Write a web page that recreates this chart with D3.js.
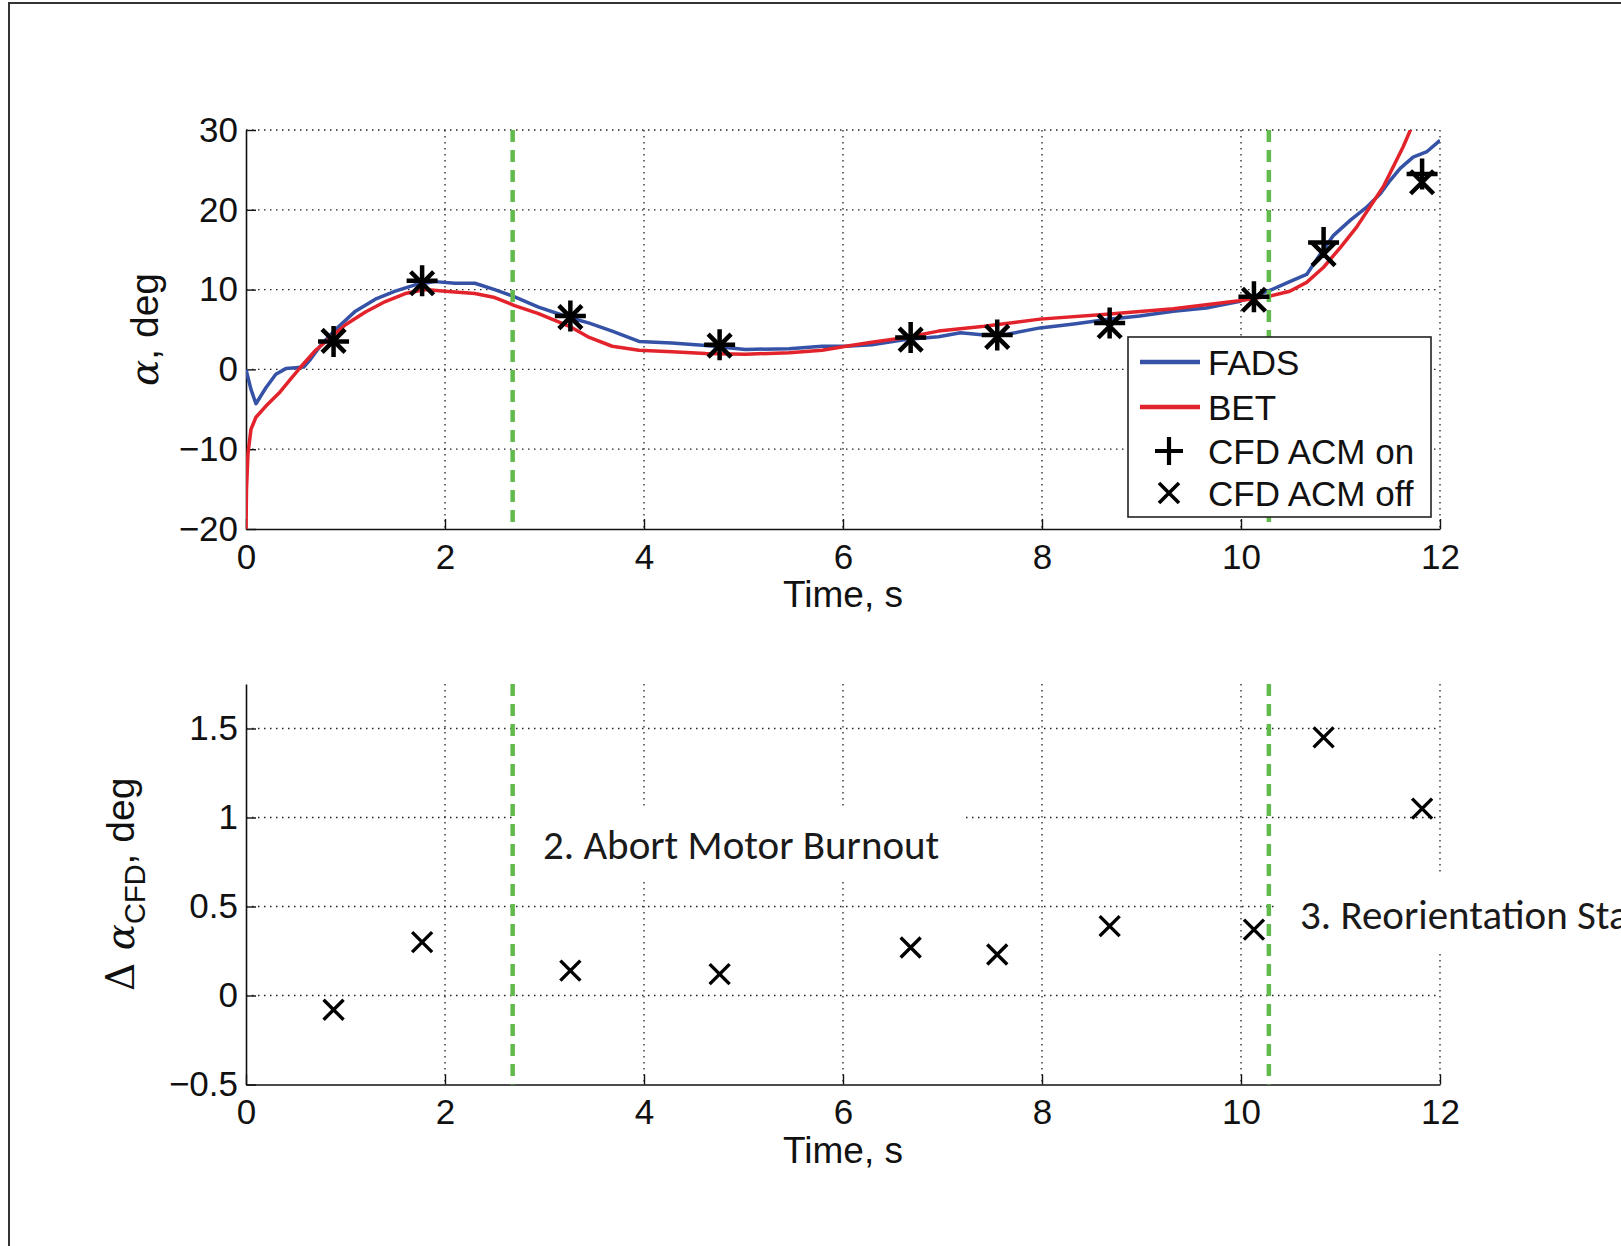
<!DOCTYPE html>
<html>
<head>
<meta charset="utf-8">
<script src="https://cdn.jsdelivr.net/npm/d3@7"></script>
<style>
  body { margin: 0; background: #fff; }
  svg { display: block; }
  .tick text { font-family: "Liberation Sans", Arial, sans-serif; fill: #111; }
</style>
</head>
<body>
<div id="graph"></div>
<script>
const w = 1621;
const h = 1246;

// ---- data ----
const fadsTime = [0, 0.05, 0.1, 0.15, 0.2, 0.3, 0.4, 0.5, 0.58, 0.65, 0.75, 0.9, 1.1, 1.3, 1.5, 1.7, 1.9, 2.1, 2.3, 2.5, 2.7,
    2.94, 3.25, 3.45, 3.68, 3.95, 4.28, 4.62, 5.02, 5.46, 5.79, 6.03, 6.29, 6.63, 6.96, 7.18, 7.42, 7.65, 7.98, 8.32,
    8.65, 8.98, 9.32, 9.65, 9.98, 10.29, 10.49, 10.66, 10.8, 10.93, 11.1, 11.26, 11.4, 11.5, 11.6, 11.73, 11.87, 12.0];
const fadsAlpha = [0, -2.5, -4.3, -3.3, -2.3, -0.6, 0.1, 0.2, 0.3, 1.3, 3.0, 5.0, 7.3, 8.8, 9.8, 10.6, 11.0, 10.8, 10.8, 10.0, 9.1,
    7.8, 6.5, 5.8, 4.8, 3.5, 3.3, 3.0, 2.5, 2.6, 2.9, 2.9, 3.1, 3.75, 4.1, 4.6, 4.3, 4.4, 5.2, 5.7,
    6.25, 6.7, 7.3, 7.7, 8.5, 9.9, 11.0, 11.9, 14.5, 16.8, 18.7, 20.3, 22.0, 23.7, 25.2, 26.6, 27.3, 28.7];

const betTime = [0, 0.005, 0.02, 0.05, 0.1, 0.2, 0.33, 0.45, 0.55, 0.7, 0.85, 1.0, 1.2, 1.4, 1.6, 1.8, 2.0, 2.3, 2.5, 2.7,
    2.94, 3.25, 3.45, 3.68, 3.95, 4.28, 4.62, 5.02, 5.46, 5.79, 6.03, 6.29, 6.63, 6.96, 7.42, 7.98, 8.65, 9.32,
    9.98, 10.29, 10.49, 10.66, 10.83, 11.0, 11.16, 11.33, 11.43, 11.53, 11.63, 11.72];
const betAlpha = [-20, -15, -10.5, -7.5, -6.0, -4.6, -3.0, -1.2, 0.3, 2.4, 4.0, 5.6, 7.2, 8.5, 9.5, 10.0, 9.8, 9.5, 9.0, 8.0,
    7.0, 5.4, 4.0, 2.9, 2.4, 2.2, 2.0, 1.9, 2.1, 2.4, 2.9, 3.4, 4.0, 4.8, 5.4, 6.3, 6.9, 7.6,
    8.6, 9.2, 9.8, 10.9, 12.8, 15.3, 17.8, 21.0, 22.9, 25.4, 27.9, 30.5];

const cfdTime = [0.88, 1.77, 3.26, 4.76, 6.68, 7.55, 8.68, 10.13, 10.83, 11.82];
const cfdAcmOn = [3.5, 11.1, 6.7, 3.1, 4.0, 4.3, 5.8, 9.1, 15.9, 24.5];
const cfdAcmOff = [3.58, 10.8, 6.56, 2.98, 3.73, 4.07, 5.41, 8.73, 14.45, 23.45];
const deltaCfd = [-0.08, 0.30, 0.14, 0.12, 0.27, 0.23, 0.39, 0.37, 1.45, 1.05];

const eventTimes = [2.68, 10.28];
const eventLabels = ["2. Abort Motor Burnout", "3. Reorientation Start"];

const xTicks = [0, 2, 4, 6, 8, 10, 12];
const topTicks = [-20, -10, 0, 10, 20, 30];
const bottomTicks = [-0.5, 0, 0.5, 1, 1.5];
const legendNames = ["FADS", "BET", "CFD ACM on", "CFD ACM off"];

// ---- layout ----
const plotLeft = 246, plotRight = 1440;
const top1 = 130, bot1 = 529;
const top2 = 684, bot2 = 1084.5;

const blue = "#3552a6", red = "#e3232b", green = "#62b94c";
const fmt = d => d3.format("")(d).replace("-", "\u2212");

const svg = d3.select("#graph")
    .append("svg")
    .attr("width", w)
    .attr("height", h);

// outer frame (top + left edges only)
svg.append("path")
    .attr("d", "M9,1246V3H1621")
    .attr("fill", "none")
    .attr("stroke", "#333")
    .attr("stroke-width", 2);

const x = d3.scaleLinear().domain([0, 12]).range([plotLeft, plotRight]);
const y1 = d3.scaleLinear().domain([-20, 30]).range([bot1, top1]);
const y2 = d3.scaleLinear().domain([-0.5, 1.75]).range([bot2, top2]);

let plusPath = s => `M${-s},0H${s}M0,${-s}V${s}`;
let crossPath = s => `M${-s},${-s}L${s},${s}M${-s},${s}L${s},${-s}`;

let drawFrame = function(g, y, ticks, yTop, yBot) {
    // grid
    g.append("g").selectAll("line")
        .data(xTicks.slice(1))
        .enter()
        .append("line")
        .attr("x1", d => x(d)).attr("x2", d => x(d))
        .attr("y1", yTop).attr("y2", yBot)
        .attr("stroke", "#222").attr("stroke-width", 1.3)
        .attr("stroke-dasharray", "1.5,4.5");
    g.append("g").selectAll("line")
        .data(ticks.slice(1))
        .enter()
        .append("line")
        .attr("x1", plotLeft).attr("x2", plotRight)
        .attr("y1", d => y(d)).attr("y2", d => y(d))
        .attr("stroke", "#222").attr("stroke-width", 1.3)
        .attr("stroke-dasharray", "1.5,4.5");

    // axes, ticks inward
    g.append("g")
        .attr("transform", "translate(0," + yBot + ")")
        .call(d3.axisBottom(x).tickValues(xTicks).tickSizeInner(-10).tickSizeOuter(0).tickPadding(15).tickFormat(fmt))
        .call(a => a.select(".domain").attr("stroke", "#111").attr("stroke-width", 1.6))
        .call(a => a.selectAll(".tick line").attr("stroke", "#111").attr("stroke-width", 1.4))
        .call(a => a.selectAll("text").attr("font-size", 35));
    g.append("g")
        .attr("transform", "translate(" + plotLeft + ",0)")
        .call(d3.axisLeft(y).tickValues(ticks).tickSizeInner(-10).tickSizeOuter(0).tickPadding(8).tickFormat(fmt))
        .call(a => a.select(".domain").attr("stroke", "#111").attr("stroke-width", 1.6))
        .call(a => a.selectAll(".tick line").attr("stroke", "#111").attr("stroke-width", 1.4))
        .call(a => a.selectAll("text").attr("font-size", 35));

    g.append("text")
        .attr("x", (plotLeft + plotRight) / 2)
        .attr("y", yBot + 78)
        .attr("text-anchor", "middle")
        .attr("font-family", "Liberation Sans, Arial, sans-serif")
        .attr("font-size", 37)
        .attr("fill", "#111")
        .text("Time, s");
};

// ================= top plot =================
const g1 = svg.append("g");
drawFrame(g1, y1, topTicks, top1, bot1);

svg.append("clipPath").attr("id", "clip1")
    .append("rect")
    .attr("x", plotLeft).attr("y", top1)
    .attr("width", plotRight - plotLeft).attr("height", bot1 - top1);

const line1 = d3.line().x(d => x(d[0])).y(d => y1(d[1]));

g1.append("path")
    .datum(d3.zip(fadsTime, fadsAlpha))
    .attr("d", line1)
    .attr("clip-path", "url(#clip1)")
    .attr("fill", "none").attr("stroke", blue).attr("stroke-width", 3.5)
    .attr("stroke-linejoin", "round");
g1.append("path")
    .datum(d3.zip(betTime, betAlpha))
    .attr("d", line1)
    .attr("clip-path", "url(#clip1)")
    .attr("fill", "none").attr("stroke", red).attr("stroke-width", 3.5)
    .attr("stroke-linejoin", "round");

g1.append("g").selectAll("line")
    .data(eventTimes)
    .enter()
    .append("line")
    .attr("x1", d => x(d)).attr("x2", d => x(d))
    .attr("y1", top1).attr("y2", bot1)
    .attr("stroke", green).attr("stroke-width", 4.5)
    .attr("stroke-dasharray", "12,8");

g1.append("g").selectAll("path")
    .data(d3.zip(cfdTime, cfdAcmOn))
    .enter()
    .append("path")
    .attr("transform", d => "translate(" + x(d[0]) + "," + y1(d[1]) + ")")
    .attr("d", plusPath(15.5))
    .attr("stroke", "#000").attr("stroke-width", 4.5);
g1.append("g").selectAll("path")
    .data(d3.zip(cfdTime, cfdAcmOff))
    .enter()
    .append("path")
    .attr("transform", d => "translate(" + x(d[0]) + "," + y1(d[1]) + ")")
    .attr("d", crossPath(11.5))
    .attr("stroke", "#000").attr("stroke-width", 4.5);

g1.append("text")
    .attr("transform", "translate(158," + (top1 + bot1) / 2 + ") rotate(-90)")
    .attr("text-anchor", "middle")
    .attr("font-family", "Liberation Sans, Arial, sans-serif")
    .attr("font-size", 39)
    .attr("fill", "#111")
    .call(t => t.append("tspan").attr("font-family", "DejaVu Serif, serif").attr("font-style", "italic").text("\u03b1"))
    .call(t => t.append("tspan").text(", deg"));

// legend
const legend = g1.append("g").attr("transform", "translate(1128,337)");
legend.append("rect")
    .attr("width", 303).attr("height", 180)
    .attr("fill", "#fff").attr("stroke", "#222").attr("stroke-width", 1.6);
const rowY = [25, 70, 114, 156];
legend.selectAll("text")
    .data(legendNames)
    .enter()
    .append("text")
    .attr("x", 80)
    .attr("y", (d, i) => rowY[i] + 13)
    .attr("font-family", "Liberation Sans, Arial, sans-serif")
    .attr("font-size", 35)
    .attr("fill", "#111")
    .text(d => d);
legend.selectAll("line")
    .data([blue, red])
    .enter()
    .append("line")
    .attr("x1", 12).attr("x2", 72)
    .attr("y1", (d, i) => rowY[i]).attr("y2", (d, i) => rowY[i])
    .attr("stroke", d => d).attr("stroke-width", 4.5);
legend.append("path")
    .attr("transform", "translate(41," + rowY[2] + ")")
    .attr("d", plusPath(14))
    .attr("stroke", "#000").attr("stroke-width", 4.2);
legend.append("path")
    .attr("transform", "translate(41," + rowY[3] + ")")
    .attr("d", crossPath(10))
    .attr("stroke", "#000").attr("stroke-width", 3.6);

// ================= bottom plot =================
const g2 = svg.append("g");
drawFrame(g2, y2, bottomTicks, top2, bot2);

// white label boxes over the grid
const boxes = [[516, 806, 450, 73], [1275, 872, 346, 82]];
g2.append("g").selectAll("rect")
    .data(boxes)
    .enter()
    .append("rect")
    .attr("x", d => d[0]).attr("y", d => d[1])
    .attr("width", d => d[2]).attr("height", d => d[3])
    .attr("fill", "#fff");

g2.append("g").selectAll("line")
    .data(eventTimes)
    .enter()
    .append("line")
    .attr("x1", d => x(d)).attr("x2", d => x(d))
    .attr("y1", top2).attr("y2", bot2)
    .attr("stroke", green).attr("stroke-width", 4.5)
    .attr("stroke-dasharray", "12,8");

g2.append("g").selectAll("path")
    .data(d3.zip(cfdTime, deltaCfd))
    .enter()
    .append("path")
    .attr("transform", d => "translate(" + x(d[0]) + "," + y2(d[1]) + ")")
    .attr("d", crossPath(10))
    .attr("stroke", "#000").attr("stroke-width", 3.4);

g2.selectAll("text.event")
    .data(eventLabels)
    .enter()
    .append("text")
    .attr("class", "event")
    .attr("x", (d, i) => [543, 1300][i])
    .attr("y", (d, i) => [859, 929][i])
    .attr("font-family", "Carlito, Lato, sans-serif")
    .attr("font-size", 41)
    .attr("fill", "#1a1a1a")
    .text(d => d);

// y label with subscript
const yl2 = g2.append("text")
    .attr("transform", "translate(134," + (top2 + bot2) / 2 + ") rotate(-90)")
    .attr("text-anchor", "middle")
    .attr("font-family", "Liberation Sans, Arial, sans-serif")
    .attr("font-size", 39)
    .attr("fill", "#111");
yl2.append("tspan").attr("font-family", "DejaVu Serif, serif").text("\u0394 ");
yl2.append("tspan").attr("font-family", "DejaVu Serif, serif").attr("font-style", "italic").text("\u03b1");
yl2.append("tspan").attr("font-size", 29).attr("dy", 11).text("CFD");
yl2.append("tspan").attr("dy", -11).text(", deg");
</script>
</body>
</html>
